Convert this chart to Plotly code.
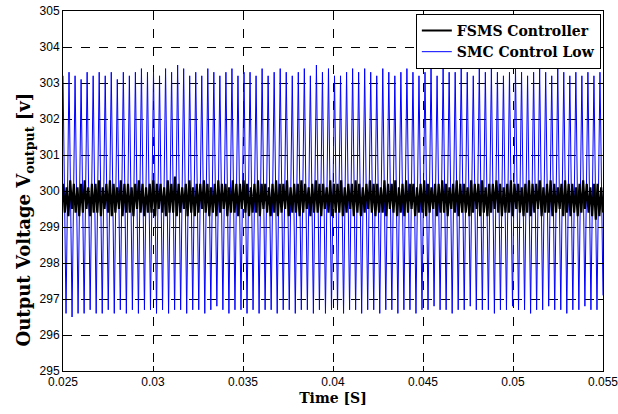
import numpy as np
import plotly.graph_objects as go

# ---- data ----
t_start, t_end = 0.025, 0.055

smc_peaks = [303.2, 303.3, 303.2, 303.1, 303.3, 303.2, 303.3, 303.2, 303.3, 303.1,
             303.3, 303.2, 303.3, 303.4, 303.3, 303.3, 303.2, 303.4, 303.3, 303.5,
             303.4, 303.2, 303.3, 303.2, 303.4, 303.3, 303.2, 303.3, 303.4, 303.2,
             303.3, 303.3, 303.2, 303.4, 303.2, 303.3, 303.4, 303.3, 303.2, 303.3,
             303.4, 303.2, 303.5, 303.3, 303.4, 303.2, 303.2, 303.3, 303.4, 303.3,
             303.4, 303.3, 303.2, 303.4, 303.3, 303.2, 303.3, 303.4, 303.3, 303.2,
             303.3, 303.4, 303.2, 303.4, 303.3, 303.3, 303.4, 303.3, 303.2, 303.4,
             303.3, 303.4, 303.3, 303.2, 303.3, 303.4, 303.3, 303.2, 303.3, 303.4,
             303.3, 303.2, 303.4, 303.3, 303.2, 303.3, 303.2, 303.3, 303.2, 303.3]
smc_troughs = [296.6, 296.5, 296.6, 296.6, 296.7, 296.6, 296.6, 296.7, 296.6, 296.7,
               296.6, 296.7, 296.6, 296.7, 296.7, 296.6, 296.7, 296.6, 296.7, 296.7,
               296.6, 296.7, 296.7, 296.6, 296.7, 296.8, 296.7, 296.6, 296.7, 296.7,
               296.6, 296.7, 296.6, 296.7, 296.7, 296.6, 296.7, 296.7, 296.6, 296.7,
               296.7, 296.6, 296.7, 296.6, 296.7, 296.7, 296.6, 296.7, 296.7, 296.6,
               296.7, 296.7, 296.6, 296.7, 296.7, 296.6, 296.7, 296.7, 296.6, 296.7,
               296.7, 296.8, 296.7, 296.7, 296.6, 296.7, 296.7, 296.8, 296.7, 296.7,
               296.7, 296.6, 296.7, 296.7, 296.8, 296.7, 296.7, 296.6, 296.7, 296.7,
               296.8, 296.7, 296.7, 296.6, 296.7, 296.7, 296.8, 296.7, 296.7, 297.1]

fsms_high = [300.2, 300.1, 300.3, 300.2, 300.1, 300.2, 300.3, 300.1, 300.2, 300.2,
             300.3, 300.1, 300.2, 300.3, 300.2, 300.1, 300.3, 300.2, 300.2, 300.1,
             300.2, 300.3, 300.2, 300.1, 300.2, 300.3, 300.2, 300.2, 300.1, 300.3,
             300.2, 300.4, 300.2, 300.1, 300.2, 300.3, 300.1, 300.2, 300.2, 300.3,
             300.2, 300.1, 300.2, 300.3, 300.2, 300.2, 300.1, 300.3, 300.2, 300.2,
             300.3, 300.2, 300.1, 300.2, 300.3, 300.2, 300.2, 300.1, 300.2, 300.3,
             300.2, 300.2, 300.3, 300.1, 300.2, 300.2, 300.3, 300.2, 300.1, 300.2,
             300.3, 300.2, 300.2, 300.1, 300.3, 300.2, 300.2, 300.3, 300.1, 300.2,
             300.2, 300.3, 300.2, 300.1, 300.2, 300.3, 300.2, 300.2, 300.1, 300.3,
             300.2, 300.2, 300.3, 300.1, 300.2, 300.3, 300.2, 300.2, 300.1, 300.2,
             300.3, 300.2, 300.1, 300.2, 300.2, 300.3, 300.2, 300.1, 300.2, 300.3,
             300.2, 300.2, 300.1, 300.3, 300.2, 300.2, 300.3, 300.1, 300.2, 300.2,
             300.3, 300.2, 300.1, 300.2, 300.3, 300.2, 300.2, 300.1, 300.2, 300.3,
             300.2, 300.2, 300.3, 300.1, 300.2, 300.3, 300.2, 300.1, 300.2, 300.3,
             300.2, 300.2, 300.1, 300.2, 300.3, 300.2, 300.1, 300.2, 300.2, 300.1]
fsms_low = [299.4, 299.3, 299.5, 299.4, 299.3, 299.4, 299.5, 299.3, 299.4, 299.4,
            299.3, 299.5, 299.4, 299.3, 299.4, 299.5, 299.3, 299.4, 299.4, 299.3,
            299.5, 299.4, 299.3, 299.4, 299.4, 299.3, 299.5, 299.4, 299.3, 299.4,
            299.4, 299.3, 299.4, 299.5, 299.3, 299.4, 299.3, 299.4, 299.5, 299.4,
            299.3, 299.4, 299.3, 299.4, 299.5, 299.3, 299.4, 299.4, 299.3, 299.5,
            299.4, 299.3, 299.4, 299.4, 299.3, 299.5, 299.4, 299.3, 299.4, 299.3,
            299.4, 299.5, 299.3, 299.4, 299.4, 299.3, 299.4, 299.5, 299.3, 299.4,
            299.4, 299.3, 299.5, 299.4, 299.3, 299.4, 299.4, 299.3, 299.4, 299.5,
            299.3, 299.4, 299.3, 299.4, 299.5, 299.4, 299.3, 299.4, 299.4, 299.3,
            299.5, 299.4, 299.3, 299.4, 299.3, 299.4, 299.5, 299.3, 299.4, 299.4,
            299.3, 299.4, 299.5, 299.3, 299.4, 299.4, 299.3, 299.5, 299.4, 299.3,
            299.4, 299.4, 299.3, 299.4, 299.5, 299.3, 299.4, 299.3, 299.4, 299.5,
            299.4, 299.3, 299.4, 299.4, 299.3, 299.5, 299.4, 299.3, 299.4, 299.3,
            299.4, 299.5, 299.3, 299.4, 299.4, 299.3, 299.4, 299.5, 299.3, 299.4,
            299.3, 299.4, 299.3, 299.4, 299.5, 299.4, 299.3, 299.2, 299.3, 299.4]

x_ticks = [0.025, 0.03, 0.035, 0.04, 0.045, 0.05, 0.055]
x_tick_labels = ["0.025", "0.03", "0.035", "0.04", "0.045", "0.05", "0.055"]
y_ticks = list(range(295, 306))

# interleave extremes into sample sequences on a uniform time grid
smc_v = [v for pair in zip(smc_peaks, smc_troughs) for v in pair]
smc_t = np.linspace(t_start, t_end, len(smc_v))
fsms_v = [v for pair in zip(fsms_high, fsms_low) for v in pair]
fsms_t = np.linspace(t_start, t_end, len(fsms_v))

fig = go.Figure()
fig.add_trace(go.Scatter(x=smc_t, y=smc_v, mode="lines", name="<b>SMC Control Low</b>",
                         line=dict(color="#0000ff", width=1)))
fig.add_trace(go.Scatter(x=fsms_t, y=fsms_v, mode="lines", name="<b>FSMS Controller</b>",
                         line=dict(color="#000000", width=2.2)))

axis_common = dict(showline=True, linecolor="black", linewidth=1, mirror="ticks",
                   ticks="inside", ticklen=5, tickcolor="black",
                   showgrid=True, gridcolor="black", griddash="dash", gridwidth=1,
                   zeroline=False, ticklabeloverflow="allow", automargin=False,
                   tickfont=dict(family="Liberation Sans", size=12, color="black"))

fig.update_layout(
    width=618, height=414,
    margin=dict(l=63, r=15, t=11, b=43),
    paper_bgcolor="white", plot_bgcolor="white",
    showlegend=True,
    legend=dict(x=0.996, y=0.992, xanchor="right", yanchor="top",
                bgcolor="white", bordercolor="black", borderwidth=1,
                traceorder="reversed",
                font=dict(family="DejaVu Serif", size=14, color="black"),
                tracegroupgap=0),
    xaxis=dict(range=[t_start, t_end], tickvals=x_ticks, ticktext=x_tick_labels,
               title=dict(text="<b>Time [S]</b>", standoff=4,
                          font=dict(family="DejaVu Serif", size=14, color="black")),
               **axis_common),
    yaxis=dict(range=[295, 305], tickvals=y_ticks,
               title=dict(text="<b>Output Voltage V<sub>output</sub> [v]</b>"
                               + "&nbsp;" * 10,
                          standoff=4,
                          font=dict(family="DejaVu Serif", size=18, color="black")),
               **axis_common),
)

fig.write_html("out.html")
